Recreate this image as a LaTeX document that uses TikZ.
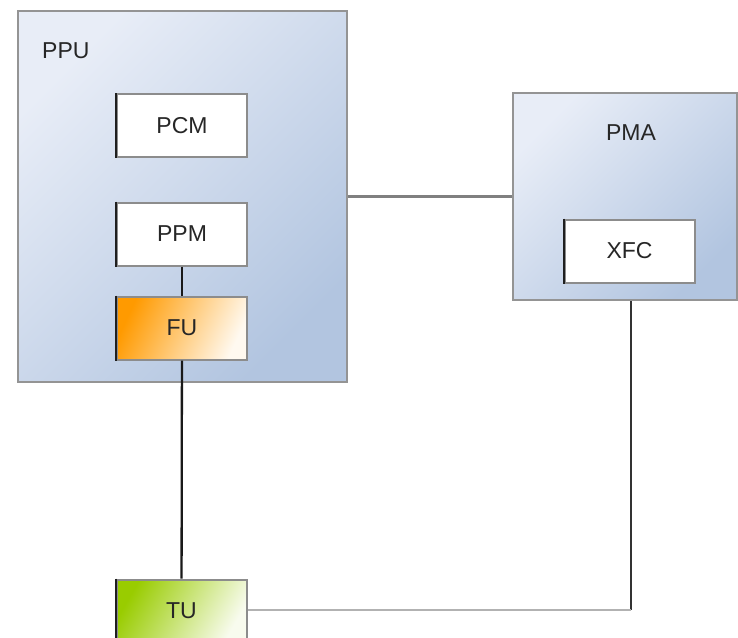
\documentclass[tikz,border=0pt]{standalone}
\usepackage{fontspec}
\setmainfont{Liberation Sans}
\definecolor{blueA}{HTML}{E8EDF7}
\definecolor{blueB}{HTML}{B2C5E0}
\definecolor{orangeA}{HTML}{FF9A00}
\definecolor{orangeB}{HTML}{FFF9F0}
\definecolor{greenA}{HTML}{99CC00}
\definecolor{greenB}{HTML}{F8FBEE}
\begin{document}
\begin{tikzpicture}[x=1pt,y=-1pt,
  font=\fontsize{23}{27}\selectfont,
  every node/.style={text=black!85},
  container/.style={draw=black!42, line width=2pt, inner sep=0pt,
    top color=blueA, bottom color=blueB, shading angle=45},
  unit/.style={draw=black!45, line width=2pt, inner sep=0pt,
    minimum width=130pt, minimum height=63pt, fill=white,
    append after command={(\tikzlastnode.north west) edge[draw=black!88, line width=2pt] (\tikzlastnode.south west)}},
  wire/.style={line width=2.3pt, draw=black!90},
  link/.style={line width=2.3pt, draw=black!50},
  lightlink/.style={line width=2pt, draw=black!30},
]
\useasboundingbox[fill=white] (0,0) rectangle (738,637);

% processing unit and its modules
\node[container, minimum width=329pt, minimum height=371pt] (ppu) at (182.5,196.5) {};
\node[anchor=base west, inner sep=0pt] (ppulabel) at (42,58) {PPU};
\node[unit] (pcm) at (182,125.5) {PCM};
\node[unit] (ppm) at (182,234) {PPM};
\node[unit, fill=none, top color=orangeA, bottom color=orangeB, shading angle=65] (fu) at (182,328) {FU};

% memory access block
\node[container, minimum width=224pt, minimum height=207pt] (pma) at (625,196.5) {};
\node[inner sep=0pt] (pmalabel) at (631,133) {PMA};
\node[unit] (xfc) at (629.5,251) {XFC};

% terminal unit
\node[unit, fill=none, top color=greenA, bottom color=greenB, shading angle=60] (tu) at (181.5,611) {TU};

% connections
\coordinate (corner) at (631,610);
\draw[wire] (ppm) -- (fu);
\draw[wire] (fu) -- (tu);
\draw[link] (ppu.east) -- (pma.west);
\draw[line width=2.3pt, draw=black!80] (pma.south -| corner) -- (corner);
\draw[lightlink] (corner) -- (tu.east |- corner);
\end{tikzpicture}
\end{document}
